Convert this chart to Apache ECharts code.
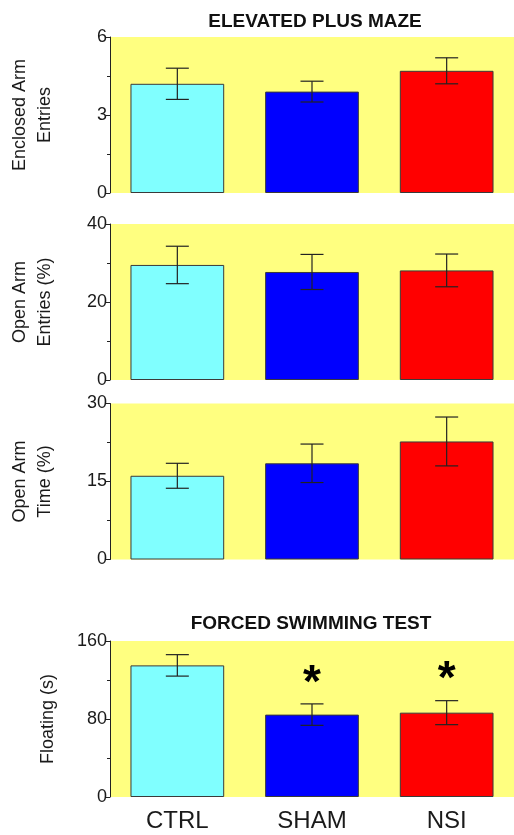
<!DOCTYPE html>
<html>
<head>
<meta charset="utf-8">
<script src="https://cdn.jsdelivr.net/npm/echarts@6/dist/echarts.min.js"></script>
<style>
html,body{margin:0;padding:0;background:#fff;}
#chart{width:514px;height:835px;}
</style>
</head>
<body>
<div id="chart"></div>
<script>
// ---- data ----
var categories = ['CTRL', 'SHAM', 'NSI'];
var barColors = ['#80FFFF', '#0000FF', '#FF0000'];

var enclosedEntries = [4.2, 3.9, 4.7];
var enclosedEntriesSem = [0.6, 0.4, 0.5];

var openEntries = [29.5, 27.7, 28.1];
var openEntriesSem = [4.8, 4.5, 4.2];

var openTime = [16.1, 18.5, 22.7];
var openTimeSem = [2.4, 3.7, 4.7];

var floating = [135, 84.5, 86.5];
var floatingSem = [11, 11, 12.3];
var floatingSig = ['', '*', '*'];

var panelNames = ['Enclosed Arm\nEntries', 'Open Arm\nEntries (%)', 'Open Arm\nTime (%)', 'Floating (s)'];
var panelMax = [6, 40, 30, 160];
var panelInterval = [3, 20, 15, 80];
var titles = ['ELEVATED PLUS MAZE', 'FORCED SWIMMING TEST'];

var panels = [
  {vals: enclosedEntries, sem: enclosedEntriesSem, sig: ['', '', '']},
  {vals: openEntries, sem: openEntriesSem, sig: ['', '', '']},
  {vals: openTime, sem: openTimeSem, sig: ['', '', '']},
  {vals: floating, sem: floatingSem, sig: floatingSig}
];

// ---- layout ----
var gridTops = [37, 224, 403.5, 641];
var gridH = 156;
var FONT = 'Liberation Sans, Arial, sans-serif';
var TXT = '#1a1a1a';

var chart = echarts.init(document.getElementById('chart'), null, {renderer: 'canvas'});

var grids = [], xAxes = [], yAxes = [], series = [];
panels.forEach(function (p, i) {
  grids.push({
    left: 110, width: 407, top: gridTops[i], height: gridH,
    show: true, backgroundColor: '#FFFF80', borderWidth: 0
  });
  xAxes.push({
    type: 'category', gridIndex: i, data: categories,
    axisLine: {show: false}, axisTick: {show: false},
    axisLabel: {show: i === 3, fontSize: 24, color: TXT, fontFamily: FONT, margin: 12}
  });
  yAxes.push({
    type: 'value', gridIndex: i, min: 0, max: panelMax[i], interval: panelInterval[i],
    name: panelNames[i], nameLocation: 'middle', nameRotate: 90, nameGap: i === 3 ? 49 : 52,
    nameTextStyle: {fontSize: 18, lineHeight: 25, color: TXT, fontFamily: FONT},
    axisLine: {show: true, lineStyle: {color: '#222', width: 1}},
    axisTick: {show: true, length: 4, lineStyle: {color: '#222'}},
    minorTick: {show: true, splitNumber: 2, length: 3, lineStyle: {color: '#222'}},
    splitLine: {show: false},
    axisLabel: {fontSize: 18, color: TXT, fontFamily: FONT, margin: 3}
  });
  series.push({
    type: 'bar', xAxisIndex: i, yAxisIndex: i, barWidth: '69.6%',
    data: p.vals.map(function (v, k) {
      return {value: v, itemStyle: {color: barColors[k]}};
    }),
    itemStyle: {borderColor: '#3a3a3a', borderWidth: 1},
    silent: true
  });
  series.push({
    type: 'custom', xAxisIndex: i, yAxisIndex: i, z: 5, silent: true,
    data: p.vals.map(function (v, k) { return [k, v, p.sem[k]]; }),
    renderItem: function (params, api) {
      var x = api.value(0), m = api.value(1), s = api.value(2);
      var sig = p.sig[params.dataIndex];
      var top = api.coord([x, m + s]);
      var bot = api.coord([x, m - s]);
      var cap = 11.5;
      var st = {stroke: '#222', lineWidth: 1.2};
      var children = [
        {type: 'line', shape: {x1: top[0], y1: top[1], x2: bot[0], y2: bot[1]}, style: st},
        {type: 'line', shape: {x1: top[0] - cap, y1: top[1], x2: top[0] + cap, y2: top[1]}, style: st},
        {type: 'line', shape: {x1: bot[0] - cap, y1: bot[1], x2: bot[0] + cap, y2: bot[1]}, style: st}
      ];
      if (sig) {
        children.push({
          type: 'text', x: top[0], y: top[1] - 20,
          style: {text: sig, fontSize: 46, fontWeight: 'bold', fontFamily: FONT,
                  fill: '#000', align: 'center', verticalAlign: 'middle'}
        });
      }
      return {type: 'group', children: children};
    }
  });
});

chart.setOption({
  animation: false,
  backgroundColor: '#ffffff',
  title: [
    {text: titles[0], left: 310, top: 7, textAlign: 'center',
     textStyle: {fontSize: 19, fontWeight: 'bold', color: '#111', fontFamily: FONT}},
    {text: titles[1], left: 306, top: 609, textAlign: 'center',
     textStyle: {fontSize: 19, fontWeight: 'bold', color: '#111', fontFamily: FONT}}
  ],
  grid: grids,
  xAxis: xAxes,
  yAxis: yAxes,
  series: series
});
</script>
</body>
</html>
